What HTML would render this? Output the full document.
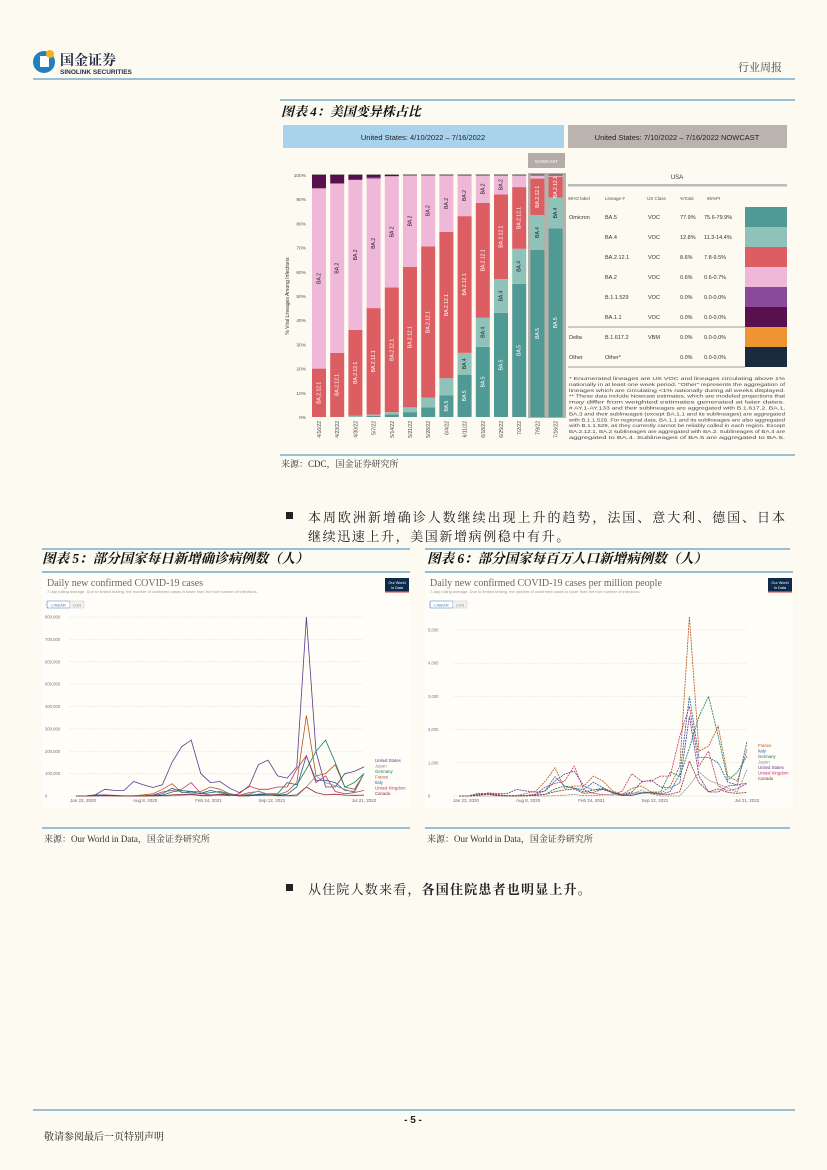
<!DOCTYPE html>
<html><head><meta charset="utf-8"><style>
html,body{margin:0;padding:0;background:#fdfaf1;}
svg{display:block;font-family:"Liberation Sans","Noto Sans CJK SC",sans-serif;}
.cn{font-family:"Liberation Serif","Noto Serif CJK SC",serif;}
</style></head><body>
<svg id="page" width="827" height="1170" viewBox="0 0 827 1170" xmlns="http://www.w3.org/2000/svg">
<rect width="827" height="1170" fill="#fdfaf1"/>
<g>
  <g>
    <circle cx="44" cy="62" r="11" fill="#1f7fc1"/>
    <rect x="40" y="56" width="9" height="11" fill="#fff"/>
    <circle cx="50" cy="54" r="4" fill="#f2b31a"/>
    <text x="60" y="65" font-size="14" font-weight="bold" fill="#1f2a44" class="cn">国金证券</text>
    <text x="60" y="74" font-size="6.5" font-weight="bold" fill="#1f2a44">SINOLINK SECURITIES</text>
  </g>
  <text x="738" y="71" font-size="11" fill="#444" class="cn">行业周报</text>
  <line x1="33" y1="79" x2="795" y2="79" stroke="#5b9cc4" stroke-width="1.2"/>
</g>
<g>
  <line x1="280" y1="100" x2="795" y2="100" stroke="#5b9cc4" stroke-width="1.2"/>
  <text x="281" y="116" font-size="13" font-weight="bold" font-style="italic" fill="#111" class="cn">图表 4：美国变异株占比</text>
  <rect x="283" y="125" width="281" height="23" fill="#a9d3ec"/>
  <text x="423" y="140" font-size="7.5" text-anchor="middle" fill="#222">United States: 4/10/2022 – 7/16/2022</text>
  <rect x="568" y="125" width="219" height="23" fill="#bbb3ad"/>
  <text x="677" y="140" font-size="7.5" text-anchor="middle" fill="#222">United States: 7/10/2022 – 7/16/2022 NOWCAST</text>
  <g id="bars"></g>
  <g id="table"></g>
  <line x1="280" y1="455" x2="795" y2="455" stroke="#5b9cc4" stroke-width="1.2"/>
  <text x="281" y="467" font-size="9" fill="#333" class="cn">来源：CDC，国金证券研究所</text>
</g>
<g>
  <rect x="286" y="512" width="7" height="7" fill="#222"/>
  <text x="308" y="522" font-size="13" fill="#222" class="cn" textLength="477" lengthAdjust="spacing">本周欧洲新增确诊人数继续出现上升的趋势，法国、意大利、德国、日本</text>
  <text x="308" y="541" font-size="13" fill="#222" class="cn" letter-spacing="1.6">继续迅速上升，美国新增病例稳中有升。</text>
</g>
<g>
  <line x1="42" y1="549" x2="410" y2="549" stroke="#5b9cc4" stroke-width="1.2"/>
  <line x1="425" y1="549" x2="790" y2="549" stroke="#5b9cc4" stroke-width="1.2"/>
  <text x="42" y="563" font-size="13.5" font-weight="bold" font-style="italic" fill="#111" class="cn">图表 5：部分国家每日新增确诊病例数（人）</text>
  <text x="427" y="563" font-size="13.5" font-weight="bold" font-style="italic" fill="#111" class="cn">图表 6：部分国家每百万人口新增病例数（人）</text>
</g>
<g id="chart5"></g>
<g id="chart6"></g>
<g>
  <line x1="42" y1="828" x2="410" y2="828" stroke="#5b9cc4" stroke-width="1.2"/>
  <line x1="425" y1="828" x2="790" y2="828" stroke="#5b9cc4" stroke-width="1.2"/>
  <text x="44" y="842" font-size="9" fill="#333" class="cn">来源：Our World in Data，国金证券研究所</text>
  <text x="427" y="842" font-size="9" fill="#333" class="cn">来源：Our World in Data，国金证券研究所</text>
</g>
<g>
  <rect x="286" y="884" width="7" height="7" fill="#222"/>
  <text x="308" y="894" font-size="13" fill="#222" class="cn" letter-spacing="1.2">从住院人数来看，<tspan font-weight="bold">各国住院患者也明显上升。</tspan></text>
</g>
<g>
  <line x1="33" y1="1110" x2="795" y2="1110" stroke="#5b9cc4" stroke-width="1.2"/>
  <text x="413" y="1123" font-size="10" font-weight="bold" text-anchor="middle" fill="#222">- 5 -</text>
  <text x="44" y="1140" font-size="10" fill="#222" class="cn">敬请参阅最后一页特别声明</text>
</g>
</svg>
<script>
const NS="http://www.w3.org/2000/svg";
function mk(p,tag,at){const e=document.createElementNS(NS,tag);for(const k in at)e.setAttribute(k,at[k]);p.appendChild(e);return e;}

// ---------- Figure 4 stacked bars ----------
const weeks=["4/16/22","4/23/22","4/30/22","5/7/22","5/14/22","5/21/22","5/28/22","6/4/22","6/11/22","6/18/22","6/25/22","7/2/22","7/9/22","7/16/22"];
const lineages=["BA.5","BA.4","BA.2.12.1","BA.2","B.1.1.529","BA.1.1"];
const ba5=[0,0,0,0.5,1,2,4,9,17.5,29,43,55,69,77.9];
const ba4=[0,0,0.5,0.5,1,2,4,7,9,12,14,14.5,14.5,12.8];
const ba2121=[20,26.5,35.5,44,51.5,58,62.5,60.5,56.5,47.5,35,25.5,15,8.6];
const ba2=[74.5,70,62,53.5,46,38,29.5,23.5,17,11.5,8,5,1.5,0.6];
const b11529=[0,0,0,0.5,0,0,0,0,0,0,0,0,0,0];
const ba11=[5.5,3.5,2,1,0.5,0,0,0,0,0,0,0,0,0];
const yTicks=[0,10,20,30,40,50,60,70,80,90,100];
const segColors=["#4f9a94","#8fc3b9","#dd5e62","#f0b8d8","#8a4a9c","#58104e"];
const segText=["#fff","#222","#fff","#222","#fff","#fff"];
const by=v=>417-v*2.42;
const bx=i=>312+i*18.2;
const bars=document.getElementById('bars');
mk(bars,'rect',{x:528,y:153,width:37,height:15,fill:'#b4aca6'});
mk(bars,'text',{x:546.5,y:163,'font-size':4.5,'text-anchor':'middle',fill:'#fff'}).textContent="NOWCAST";
mk(bars,'rect',{x:528,y:173,width:38,height:245,fill:'#b8b0aa'});
const yl=mk(bars,'text',{x:0,y:0,'font-size':5,'text-anchor':'middle',fill:'#333',transform:'translate(289,296) rotate(-90)'});
yl.textContent="% Viral Lineages Among Infections";


yTicks.forEach(t=>{const e=mk(bars,'text',{x:306,y:by(t)+2,'font-size':4.8,'text-anchor':'end',fill:'#555'});e.textContent=t+"%";

});
const series=[ba5,ba4,ba2121,ba2,b11529,ba11];
weeks.forEach((w,i)=>{
  let acc=0;
  series.forEach((s,k)=>{
    const v=s[i];if(v<=0)return;
    const r=mk(bars,'rect',{x:bx(i),y:by(acc+v),width:14,height:v*2.42,fill:segColors[k]});
    
    
    if(v>=8){const t=mk(bars,'text',{x:0,y:0,'font-size':5,'text-anchor':'middle',fill:segText[k],transform:`translate(${bx(i)+8.5},${by(acc+v/2)}) rotate(-90)`});t.textContent=lineages[k];}
    acc+=v;
  });
  const top=100-acc;
  if(top>0.05)mk(bars,'rect',{x:bx(i),y:by(100),width:14,height:top*2.42,fill:'#58104e'});
  mk(bars,'line',{x1:bx(i),x2:bx(i)+14,y1:by(100),y2:by(100),stroke:'#222','stroke-width':0.8});
  const d=mk(bars,'text',{x:0,y:0,'font-size':5,'text-anchor':'end',fill:'#444',transform:`translate(${bx(i)+9},421) rotate(-90)`});
  d.textContent=w;
  
  
});

// ---------- Figure 4 table ----------
const tWho=["Omicron","","","","","","Delta","Other"];
const tLin=["BA.5","BA.4","BA.2.12.1","BA.2","B.1.1.529","BA.1.1","B.1.617.2","Other*"];
const tCls=["VOC","VOC","VOC","VOC","VOC","VOC","VBM",""];
const tPct=["77.9%","12.8%","8.6%","0.6%","0.0%","0.0%","0.0%","0.0%"];
const tPI=["75.6-79.9%","11.3-14.4%","7.8-9.5%","0.6-0.7%","0.0-0.0%","0.0-0.0%","0.0-0.0%","0.0-0.0%"];
const tCol=["#4f9a94","#8fc3b9","#dd5e62","#f0b8d8","#8a4a9c","#58104e","#ef9433","#1a2b40"];
const tb=document.getElementById('table');
mk(tb,'text',{x:677,y:179,'font-size':6,'text-anchor':'middle',fill:'#333'}).textContent="USA";
mk(tb,'rect',{x:568,y:184,width:219,height:2.5,fill:'#bbb'});
[["WHO label",568],["Lineage #",605],["US Class",647],["%Total",680],["95%PI",707]].forEach(h=>{mk(tb,'text',{x:h[1],y:200,'font-size':4.5,fill:'#555'}).textContent=h[0];});
tLin.forEach((l,i)=>{
  const y=217+i*20;
  mk(tb,'text',{x:569,y:y+2,'font-size':5.5,fill:'#333'}).textContent=tWho[i];
  mk(tb,'text',{x:605,y:y+2,'font-size':5.5,fill:'#333'}).textContent=l;
  mk(tb,'text',{x:648,y:y+2,'font-size':5.5,fill:'#333'}).textContent=tCls[i];
  mk(tb,'text',{x:680,y:y+2,'font-size':5.5,fill:'#333'}).textContent=tPct[i];
  mk(tb,'text',{x:704,y:y+2,'font-size':5.5,fill:'#333'}).textContent=tPI[i];
  const sw=mk(tb,'rect',{x:745,y:y-10,width:42,height:20,fill:tCol[i]});
  
  
});
mk(tb,'line',{x1:568,x2:745,y1:327,y2:327,stroke:'#444','stroke-width':0.6});
mk(tb,'line',{x1:568,x2:745,y1:367,y2:367,stroke:'#444','stroke-width':0.6});
const notes=["*     Enumerated lineages are US VOC and lineages circulating above 1%","nationally in at least one week period. \"Other\" represents the aggregation of","lineages which are circulating <1% nationally during all weeks displayed.","**     These data include Nowcast estimates, which are modeled projections that","may differ from weighted estimates generated at later dates.","#     AY.1-AY.133 and their sublineages are aggregated with B.1.617.2. BA.1,","BA.3 and their sublineages (except BA.1.1 and its sublineages) are aggregated","with B.1.1.529. For regional data, BA.1.1 and its sublineages are also aggregated","with B.1.1.529, as they currently cannot be reliably called in each region. Except","BA.2.12.1, BA.2 sublineages are aggregated with BA.2. Sublineages of BA.4 are","aggregated to BA.4. Sublineages of BA.5 are aggregated to BA.5."];
notes.forEach((n,i)=>{mk(tb,'text',{x:569,y:380+i*5.9,'font-size':4.6,fill:'#444',textLength:216,lengthAdjust:'spacingAndGlyphs'}).textContent=n;});

// ---------- Line charts data (t = month index from Jan 2020) ----------
const months=[0,1,2,3,4,5,6,7,8,9,10,11,12,13,14,15,16,17,18,19,20,21,22,23,24,25,26,27,28,29,30];
// chart 5 values in thousands of cases
const c5US=[0,0,5,30,25,25,65,50,38,50,150,220,250,100,60,65,35,15,40,140,160,90,80,130,800,200,40,40,100,110,130];
const c5France=[0,0,3,4,1,0,1,5,10,30,55,15,20,20,40,30,10,3,15,20,8,5,20,60,360,90,100,140,40,30,100];
const c5Germany=[0,0,3,5,1,0,0,1,2,4,18,25,20,10,15,20,10,1,1,8,10,10,60,50,120,200,250,150,40,60,100];
const c5Italy=[0,0,5,4,1,0,0,1,2,10,35,18,14,12,25,15,5,1,5,6,5,3,8,40,180,70,70,60,25,20,100];
const c5UK=[0,0,2,5,3,1,1,1,4,18,25,30,60,12,5,3,2,10,45,30,30,40,40,120,180,60,90,20,10,15,25];
const c5Japan=[0,0,0,0,0,0,1,1,0,0,1,3,6,1,1,4,5,2,8,22,8,0,0,0,40,90,60,45,30,15,100];
const c5Canada=[0,0,1,2,1,0,0,0,1,2,5,7,8,3,4,8,4,1,1,3,4,2,2,5,40,15,5,8,4,3,4];
const c6US=[0,0,15,90,75,75,195,150,115,150,450,660,750,300,180,195,105,45,120,420,480,270,240,390,2400,600,120,120,300,330,390];
const c6France=[0,0,50,60,15,0,15,75,150,450,850,230,300,300,600,450,150,45,230,300,120,75,300,900,5400,1350,1500,2100,600,450,1400];
const c6Germany=[0,0,35,60,12,0,0,12,25,50,215,300,240,120,180,240,120,12,12,95,120,120,720,600,1440,2400,3000,1800,480,720,1200];
const c6Italy=[0,0,80,65,15,0,0,15,35,165,580,300,230,200,415,250,85,15,85,100,85,50,135,660,3000,1160,1160,1000,415,330,1650];
const c6UK=[0,0,30,75,45,15,15,15,60,270,375,450,900,180,75,45,30,150,670,450,450,600,600,1800,2700,900,1350,300,150,225,375];
const c6Japan=[0,0,0,0,0,0,8,8,0,0,8,24,48,8,8,32,40,16,64,175,64,0,0,0,320,720,480,360,240,120,800];
const c6Canada=[0,0,25,50,25,0,0,0,25,50,130,185,210,80,105,210,105,25,25,80,105,50,50,130,1050,400,130,210,105,80,105];
const c5Ticks=[0,100000,200000,300000,400000,500000,600000,700000,800000];
const c6Ticks=[0,1000,2000,3000,4000,5000];
const dateTicks=[0.73,7.2,13.8,20.4,30.0];
const dateLabels=["Jan 23, 2020","Aug 8, 2020","Feb 24, 2021","Sep 12, 2021","Jul 21, 2022"];
const countryNames=["United States","France","Germany","Italy","United Kingdom","Japan","Canada"];
const countryColors=["#5a3a8c","#b5541f","#0f7d63","#1f5fa6","#c62f6e","#8c8c8c","#8a2d3a"];

function drawChart(gid,x0,title,sub,ticks,ymax,unit,datasets,legendOrder,legendY,dashed){
  const g=document.getElementById(gid);
  
  
  mk(g,'rect',{x:x0,y:571,width:368,height:237,fill:'#fffdf7'});
  mk(g,'line',{x1:x0,x2:x0+368,y1:572,y2:572,stroke:'#6fa8c8','stroke-width':1.5});
  mk(g,'text',{x:x0+5,y:586,'font-size':10,fill:'#666','font-family':'Liberation Serif, serif'}).textContent=title;
  mk(g,'text',{x:x0+5,y:593,'font-size':4,fill:'#999'}).textContent=sub;
  const lb=mk(g,'rect',{x:x0+5,y:601,width:23,height:7,fill:'#fff',stroke:'#3a7bbf','stroke-width':0.6,rx:1});
  
  
  mk(g,'text',{x:x0+16.5,y:606.5,'font-size':4,'text-anchor':'middle',fill:'#3a7bbf'}).textContent="LINEAR";
  const gb=mk(g,'rect',{x:x0+28,y:601,width:14,height:7,fill:'#f2f2f2',stroke:'#ccc','stroke-width':0.5});
  
  
  mk(g,'text',{x:x0+35,y:606.5,'font-size':4,'text-anchor':'middle',fill:'#888'}).textContent="LOG";
  mk(g,'rect',{x:x0+343,y:578,width:24,height:14,fill:'#0d2a4a'});
  mk(g,'rect',{x:x0+343,y:591,width:24,height:1.5,fill:'#d3333a'});
  mk(g,'text',{x:x0+355,y:584,'font-size':3.8,'text-anchor':'middle',fill:'#fff'}).textContent="Our World";
  mk(g,'text',{x:x0+355,y:589,'font-size':3.8,'text-anchor':'middle',fill:'#fff'}).textContent="in Data";
  const X=t=>x0+34+t*9.6;
  const Y=v=>796-v/ymax*(796-617);
  ticks.forEach(t=>{
    mk(g,'line',{x1:x0+28,x2:x0+322,y1:Y(t),y2:Y(t),stroke:'#ddd','stroke-width':0.5,'stroke-dasharray':t===0?'':'2,1'});
    const e=mk(g,'text',{x:x0+3,y:Y(t)+1.5,'font-size':4.2,fill:'#777'});
    e.textContent=t===0?'0':t.toLocaleString('en-US');
    
    
  });
  dateTicks.forEach((t,i)=>{
    const e=mk(g,'text',{x:X(t),y:802,'font-size':4.5,'text-anchor':'middle',fill:'#666'});
    e.textContent=dateLabels[i];
    
    
  });
  datasets.forEach((d,k)=>{
    const p=d.map((v,i)=>(i?'L':'M')+X(months[i]).toFixed(1)+','+Y(v*unit).toFixed(1)).join(' ');
    const l=mk(g,'path',{d:p,fill:'none',stroke:countryColors[k],'stroke-width':0.8,'stroke-dasharray':dashed?'2,0.8':''});
    
    
  });
  legendOrder.forEach((k,i)=>{
    const e=mk(g,'text',{x:x0+333,y:legendY+i*5.5,'font-size':4.3,fill:countryColors[k]});
    e.textContent=countryNames[k];
    
    
  });
}
drawChart('chart5',42,'Daily new confirmed COVID-19 cases','7-day rolling average. Due to limited testing, the number of confirmed cases is lower than the true number of infections.',c5Ticks,800000,1000,[c5US,c5France,c5Germany,c5Italy,c5UK,c5Japan,c5Canada],[0,5,2,1,3,4,6],762,false);
drawChart('chart6',425,'Daily new confirmed COVID-19 cases per million people','7-day rolling average. Due to limited testing, the number of confirmed cases is lower than the true number of infections.',c6Ticks,5390,1,[c6US,c6France,c6Germany,c6Italy,c6UK,c6Japan,c6Canada],[1,3,2,5,0,4,6],747,true);
</script>
</body></html>
